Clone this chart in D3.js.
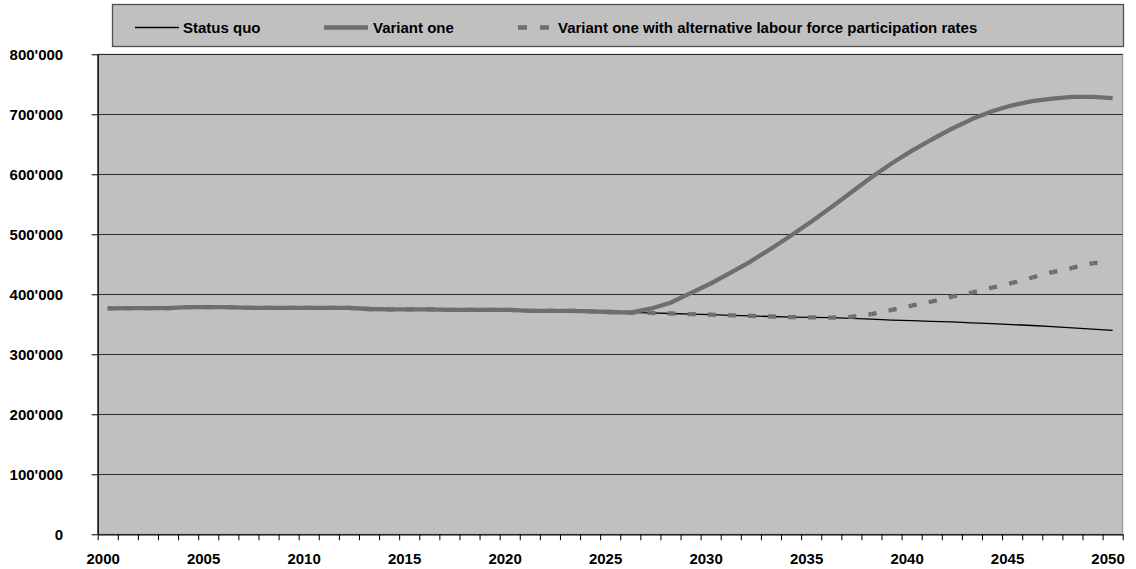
<!DOCTYPE html>
<html>
<head>
<meta charset="utf-8">
<script src="https://cdn.jsdelivr.net/npm/d3@7"></script>
<style>
  html, body { margin: 0; padding: 0; background: #fff; }
  svg { display: block; }
  text { font-family: "Liberation Sans", Arial, sans-serif; font-weight: bold; font-size: 15px; fill: #000; }
</style>
</head>
<body>
<svg id="chart" width="1136" height="569"></svg>
<script>
// chart data
var years = d3.range(2000, 2051);
var yearLabels = [2000, 2005, 2010, 2015, 2020, 2025, 2030, 2035, 2040, 2045, 2050];
var yTicks = [0, 100000, 200000, 300000, 400000, 500000, 600000, 700000, 800000];
var seriesNames = ['Status quo', 'Variant one', 'Variant one with alternative labour force participation rates'];

var statusQuo = [
    376500, 377000, 377000, 377000, 378500, 378500, 378500, 377500, 377500, 377500,
    377500, 377500, 377500, 375500, 375000, 375000, 375000, 374000, 374000, 374000,
    374000, 372500, 372500, 372500, 371500, 370500, 369500, 369000, 368000, 367000,
    366000, 365000, 364000, 363000, 362000, 361500, 361000, 360000, 358500, 357000,
    356000, 355000, 354000, 352500, 351000, 349500, 348000, 346000, 344000, 342000,
    340000
];
var variantOne = [
    376500, 377000, 377000, 377000, 378500, 378500, 378500, 377500, 377500, 377500,
    377500, 377500, 377500, 375500, 375000, 375000, 375000, 374000, 374000, 374000,
    374000, 372500, 372500, 372500, 371500, 370500, 369500, 376000, 386000, 402000,
    418000, 436000, 455000, 476000, 498000, 521000, 545000, 570000, 595000, 618000,
    639000, 658000, 676000, 692000, 705000, 715000, 722000, 726000, 729000, 729000,
    727000
];
var variantAlt = [
    376500, 377000, 377000, 377000, 378500, 378500, 378500, 377500, 377500, 377500,
    377500, 377500, 377500, 375500, 375000, 375000, 375000, 374000, 374000, 374000,
    374000, 372500, 372500, 372500, 371500, 370500, 369500, 369000, 368000, 367000,
    366000, 365000, 364000, 363000, 362000, 361500, 361000, 362500, 367000, 374000,
    381000, 388000, 396000, 403000, 411000, 419000, 428000, 437000, 444000, 452000,
    453000
];

(function() {
    var svg = d3.select('#chart');
    var plotLeft = 97.7, plotRight = 1122.7, plotTop = 54.3, plotBottom = 534.3;
    var bg = '#c0c0c0';
    var grey = '#6e6e6e';

    // tick boundaries are year edges, points sit in the middle of each year
    var xEdge = d3.scaleLinear().domain([2000, 2051]).range([plotLeft, plotRight]);
    var xc = function(yr) { return xEdge(yr + 0.5); };
    var y = d3.scaleLinear().domain([0, 800000]).range([plotBottom, plotTop]);
    var fmt = function(v) { return d3.format(',')(v).replace(/,/g, "'"); };

    // plot area
    svg.append('rect')
        .attr('x', plotLeft).attr('y', plotTop)
        .attr('width', plotRight - plotLeft).attr('height', plotBottom - plotTop)
        .attr('fill', bg)
        .attr('stroke', '#8a8a8a').attr('stroke-width', 1);

    // gridlines
    svg.append('g')
        .selectAll('line')
        .data(yTicks.filter(function(d) { return d > 0; }))
        .enter().append('line')
        .attr('x1', plotLeft).attr('x2', plotRight)
        .attr('y1', function(d) { return Math.round(y(d)) + 0.5; })
        .attr('y2', function(d) { return Math.round(y(d)) + 0.5; })
        .attr('stroke', '#2a2a2a').attr('stroke-width', 1);

    // y axis
    var yAxis = svg.append('g')
        .attr('transform', 'translate(' + plotLeft + ',0)')
        .call(d3.axisLeft(y).tickValues(yTicks).tickFormat(fmt).tickSize(6).tickSizeOuter(0).tickPadding(28.5));
    yAxis.select('.domain').attr('stroke', '#000').attr('stroke-width', 1.3);
    yAxis.selectAll('.tick line').attr('stroke', '#000');
    yAxis.selectAll('text')
        .attr('font-family', '"Liberation Sans", Arial, sans-serif')
        .attr('font-size', 15).attr('font-weight', 'bold');

    // x axis: a tick at every year edge, labels every five years
    var xAxis = svg.append('g')
        .attr('transform', 'translate(0,' + plotBottom + ')')
        .call(d3.axisBottom(xEdge).tickValues(d3.range(2000, 2052)).tickFormat('').tickSize(6).tickSizeOuter(0));
    xAxis.select('.domain').attr('stroke', '#000').attr('stroke-width', 1.3);
    xAxis.selectAll('.tick line').attr('stroke', '#000');

    svg.append('g')
        .selectAll('text')
        .data(yearLabels)
        .enter().append('text')
        .attr('x', function(d) { return xc(d) - 4.6; })
        .attr('y', 563.5)
        .attr('text-anchor', 'middle')
        .text(function(d) { return d; });

    // lines
    var line = d3.line()
        .x(function(d, i) { return xc(years[i]); })
        .y(function(d) { return y(d); });

    svg.append('path')
        .attr('d', line(statusQuo))
        .attr('fill', 'none')
        .attr('stroke', '#000').attr('stroke-width', 1.3);

    svg.append('path')
        .attr('d', line(variantOne))
        .attr('fill', 'none')
        .attr('stroke', grey).attr('stroke-width', 4.3)
        .attr('stroke-linejoin', 'round');

    // dashed series: dash pattern restarts at every data point (one dash per year)
    var altSegments = d3.pairs(variantAlt.map(function(v, i) { return [xc(years[i]), y(v)]; }));
    svg.append('g')
        .selectAll('path')
        .data(altSegments)
        .enter().append('path')
        .attr('d', function(s) { return d3.line()(s); })
        .attr('pathLength', 20)
        .attr('fill', 'none')
        .attr('stroke', grey).attr('stroke-width', 4.3)
        .attr('stroke-dasharray', function(s, i) {
            return i === altSegments.length - 1 ? '5,15' : '5,12,3';
        });

    // legend
    var legend = svg.append('g');
    legend.append('rect')
        .attr('x', 112.5).attr('y', 4.5)
        .attr('width', 1011).attr('height', 42)
        .attr('fill', bg)
        .attr('stroke', '#505050').attr('stroke-width', 1.3);

    var legendItems = [
        { name: seriesNames[0], x1: 135, x2: 179, tx: 183, color: '#000', width: 1.3, dash: null },
        { name: seriesNames[1], x1: 324, x2: 368, tx: 373, color: grey, width: 4.3, dash: null },
        { name: seriesNames[2], x1: 518, x2: 552, tx: 558, color: grey, width: 4.3, dash: '9,13' }
    ];
    legendItems.forEach(function(it) {
        legend.append('line')
            .attr('x1', it.x1).attr('x2', it.x2)
            .attr('y1', 27.5).attr('y2', 27.5)
            .attr('stroke', it.color).attr('stroke-width', it.width)
            .attr('stroke-dasharray', it.dash);
        legend.append('text')
            .attr('x', it.tx).attr('y', 33.3)
            .text(it.name);
    });
})();
</script>
</body>
</html>
